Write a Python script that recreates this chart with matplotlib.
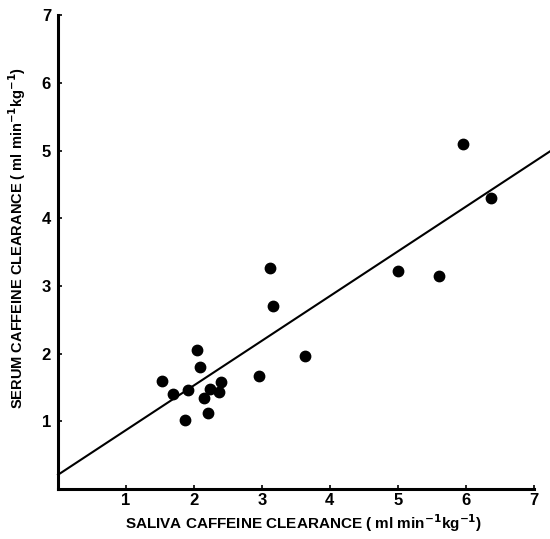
import matplotlib.pyplot as plt
import numpy as np

# saliva vs serum caffeine clearance (ml min-1 kg-1)
saliva = [1.53, 1.69, 1.87, 1.91, 2.04, 2.09, 2.15, 2.21, 2.24, 2.37, 2.40,
          2.96, 3.12, 3.16, 3.63, 5.01, 5.60, 5.96, 6.37]
serum = [1.60, 1.41, 1.02, 1.46, 2.06, 1.80, 1.35, 1.12, 1.48, 1.43, 1.58,
         1.67, 3.27, 2.71, 1.97, 3.22, 3.14, 5.09, 4.30]
fit_intercept = 0.21
fit_slope = 0.66
ticks = [1, 2, 3, 4, 5, 6, 7]

plt.rcParams['font.family'] = ['Liberation Sans', 'DejaVu Sans']
plt.rcParams['font.weight'] = 'bold'

fig = plt.figure(figsize=(5.5, 5.39), dpi=100)
ax = fig.add_axes([0.1055, 0.0928, 0.8945, 0.879])

ax.scatter(saliva, serum, s=56, color='black', zorder=3)
xx = np.array([0, 7.25])
ax.plot(xx, fit_intercept + fit_slope * xx, color='black', lw=1.5, clip_on=False)

ax.set_xlim(0, 7.24)
ax.set_ylim(0, 7)
ax.spines['top'].set_visible(False)
ax.spines['right'].set_visible(False)
ax.spines['bottom'].set_bounds(0, 7)
for s in ['left', 'bottom']:
    ax.spines[s].set_linewidth(2.2)

ax.set_xticks(ticks)
ax.set_yticks(ticks)
ax.tick_params(direction='in', length=3, width=1.2, labelsize=12, pad=5)
ax.tick_params(axis='x', pad=3)
for lab in ax.get_xticklabels() + ax.get_yticklabels():
    lab.set_fontweight('bold')

ax.set_xlabel('SALIVA CAFFEINE CLEARANCE ( ml min$^{\\mathbf{-1}}$kg$^{\\mathbf{-1}}$)',
              fontsize=11, fontweight='bold')
ax.set_ylabel('SERUM CAFFEINE CLEARANCE ( ml min$^{\\mathbf{-1}}$kg$^{\\mathbf{-1}}$)',
              fontsize=10.5, fontweight='bold')
ax.xaxis.set_label_coords(0.5, -0.05)
ax.yaxis.set_label_coords(-0.062, 0.53)

fig.savefig('out.png', dpi=100)
